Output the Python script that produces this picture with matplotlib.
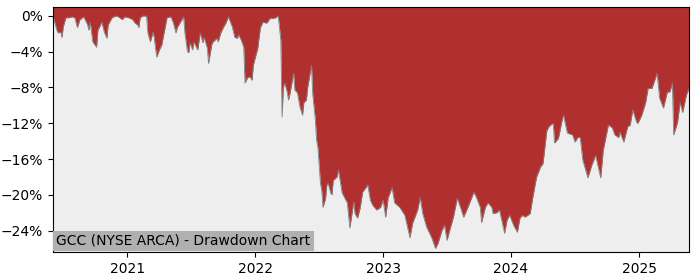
import matplotlib
matplotlib.use("Agg")
import matplotlib.pyplot as plt
import matplotlib.dates as mdates
from matplotlib.ticker import MultipleLocator, PercentFormatter
import pandas as pd

# dates as decimal years, drawdown in percent
years = [
    2020.42, 2020.45, 2020.46, 2020.48, 2020.49, 2020.50, 2020.52, 2020.54, 2020.57, 2020.59,
    2020.61, 2020.63, 2020.66, 2020.69, 2020.70, 2020.71, 2020.73, 2020.76, 2020.77, 2020.80,
    2020.82, 2020.84, 2020.85, 2020.88, 2020.91, 2020.93, 2020.96, 2020.98, 2021.01, 2021.04,
    2021.06, 2021.08, 2021.09, 2021.10, 2021.12, 2021.15, 2021.16, 2021.18, 2021.20, 2021.21,
    2021.22, 2021.23, 2021.25, 2021.27, 2021.28, 2021.31, 2021.34, 2021.36, 2021.38, 2021.39,
    2021.41, 2021.44, 2021.45, 2021.47, 2021.48, 2021.49, 2021.51, 2021.52, 2021.55, 2021.57,
    2021.59, 2021.60, 2021.625, 2021.635, 2021.66, 2021.67, 2021.70, 2021.71, 2021.73, 2021.75,
    2021.77, 2021.79, 2021.82, 2021.84, 2021.86, 2021.87, 2021.89, 2021.91, 2021.92, 2021.94,
    2021.96, 2021.975, 2021.985, 2022.02, 2022.04, 2022.06, 2022.09, 2022.12, 2022.13, 2022.16,
    2022.18, 2022.20, 2022.21, 2022.22, 2022.23, 2022.25, 2022.26, 2022.27, 2022.30, 2022.31,
    2022.33, 2022.35, 2022.37, 2022.38, 2022.40, 2022.41, 2022.44, 2022.45, 2022.47, 2022.48,
    2022.49, 2022.51, 2022.52, 2022.53, 2022.55, 2022.56, 2022.57, 2022.59, 2022.60, 2022.61,
    2022.64, 2022.65, 2022.68, 2022.72, 2022.74, 2022.77, 2022.78, 2022.80, 2022.82, 2022.84,
    2022.88, 2022.90, 2022.92, 2022.95, 2022.98, 2023.00, 2023.02, 2023.04, 2023.07, 2023.09,
    2023.13, 2023.17, 2023.21, 2023.23, 2023.27, 2023.29, 2023.31, 2023.34, 2023.38, 2023.41,
    2023.43, 2023.46, 2023.48, 2023.50, 2023.52, 2023.55, 2023.58, 2023.60, 2023.63, 2023.66,
    2023.71, 2023.73, 2023.76, 2023.77, 2023.80, 2023.82, 2023.85, 2023.86, 2023.89, 2023.91,
    2023.95, 2023.97, 2023.99, 2024.02, 2024.05, 2024.07, 2024.09, 2024.11, 2024.15, 2024.17,
    2024.20, 2024.23, 2024.25, 2024.28, 2024.30, 2024.33, 2024.34, 2024.37, 2024.40, 2024.41,
    2024.44, 2024.48, 2024.50, 2024.52, 2024.54, 2024.56, 2024.60, 2024.63, 2024.66, 2024.70,
    2024.72, 2024.76, 2024.79, 2024.81, 2024.84, 2024.85, 2024.88, 2024.91, 2024.93, 2024.95,
    2024.98, 2024.99, 2025.02, 2025.05, 2025.07, 2025.10, 2025.14, 2025.16, 2025.19, 2025.22,
    2025.24, 2025.26, 2025.27, 2025.30, 2025.32, 2025.34, 2025.37, 2025.39,
]
drawdown = [
    0.0, -1.6, -1.9, -1.8, -2.4, -1.2, -0.2, -0.2, -0.1, -0.2,
    -1.3, -0.4, -0.1, -1.0, -1.6, -0.7, -2.9, -3.5, -1.6, -0.7,
    -1.8, -2.5, -1.0, -0.2, 0.0, -0.1, -0.4, -0.1, -0.2, -0.4,
    -0.8, -1.0, -1.3, -0.2, 0.0, 0.0, -1.9, -2.9, -1.8, -2.4,
    -3.6, -4.6, -3.8, -3.2, -2.4, -0.2, -0.1, -0.8, -1.9, -1.3,
    -0.8, -0.1, -1.9, -4.0, -4.1, -3.0, -3.8, -2.9, -3.8, -1.9,
    -3.0, -2.4, -3.6, -5.3, -3.2, -2.9, -2.5, -2.9, -1.9, -1.3,
    -0.8, -0.1, -1.2, -2.4, -2.5, -2.1, -2.7, -3.5, -7.5, -6.9,
    -6.8, -7.2, -5.5, -3.6, -1.3, -0.7, -0.8, -0.2, -0.3, -0.2,
    0.0, -2.7, -11.3, -8.0, -7.5, -8.5, -9.4, -8.8, -6.4, -8.3,
    -8.6, -10.2, -11.1, -9.7, -9.4, -8.0, -5.5, -8.8, -11.6, -13.9,
    -14.7, -18.7, -19.5, -21.4, -20.4, -18.9, -18.7, -19.8, -20.0, -18.4,
    -18.0, -17.2, -19.8, -20.9, -23.7, -20.8, -22.1, -22.6, -21.5, -19.7,
    -18.9, -20.6, -21.2, -21.7, -21.4, -20.6, -22.5, -20.3, -19.2, -20.9,
    -21.4, -22.3, -24.8, -23.2, -21.7, -20.3, -22.1, -23.6, -24.8, -26.0,
    -25.4, -24.0, -23.4, -25.1, -24.0, -22.5, -20.4, -21.2, -22.5, -21.5,
    -19.7, -20.3, -21.4, -23.1, -21.4, -20.9, -21.4, -22.1, -22.0, -21.7,
    -24.3, -22.8, -22.3, -23.4, -24.2, -22.6, -22.3, -22.5, -22.1, -20.3,
    -18.0, -16.9, -16.5, -12.8, -12.3, -12.0, -14.2, -13.7, -11.6, -11.1,
    -13.1, -13.3, -14.1, -13.6, -13.6, -16.1, -18.1, -16.7, -15.6, -18.1,
    -15.0, -12.2, -12.5, -13.3, -13.6, -13.0, -14.1, -12.4, -12.2, -10.5,
    -11.9, -12.0, -11.1, -9.7, -8.1, -8.1, -6.4, -9.2, -10.3, -8.5,
    -8.5, -7.5, -13.3, -11.9, -9.7, -10.8, -8.8, -8.1,
]
title = "GCC (NYSE ARCA) - Drawdown Chart"


def to_date(y):
    start = pd.Timestamp(int(y), 1, 1)
    end = pd.Timestamp(int(y) + 1, 1, 1)
    return start + (end - start) * (y - int(y))


def main():
    dates = [to_date(y) for y in years]
    top = 1.0

    fig = plt.figure(figsize=(7, 2.8), dpi=100)
    ax = fig.add_axes([0.0757, 0.1, 0.9086, 0.875])
    ax.set_facecolor("#eeeeee")

    ax.fill_between(dates, drawdown, top, color="#b03030", linewidth=0)
    ax.plot(dates, drawdown, color="#808080", linewidth=0.6)

    ax.set_xlim(dates[0], dates[-1])
    ax.set_ylim(-26.4, top)
    ax.yaxis.set_major_locator(MultipleLocator(4))
    ax.yaxis.set_major_formatter(PercentFormatter(decimals=0))
    ax.xaxis.set_major_locator(mdates.YearLocator())
    ax.xaxis.set_major_formatter(mdates.DateFormatter("%Y"))

    # label box sits flush in the lower-left corner of the axes
    ax.annotate(title, xy=(0, 0), xycoords="axes fraction",
                xytext=(2.3, 3.0), textcoords="offset points",
                fontsize=10, ha="left", va="bottom", zorder=5,
                bbox=dict(facecolor="#b0b0b0", edgecolor="none", pad=2.3))

    fig.savefig("out.png", dpi=100)


if __name__ == "__main__":
    main()
